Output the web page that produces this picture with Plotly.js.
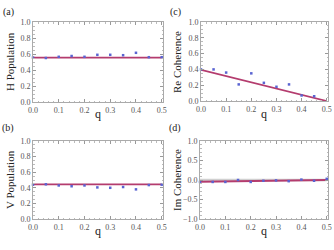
<!DOCTYPE html>
<html><head><meta charset="utf-8">
<script src="https://cdn.plot.ly/plotly-3.0.1.min.js"></script>
<style>html,body{margin:0;padding:0;background:#fff}#c{width:334px;height:250px}</style>
</head><body><div id="c"></div>
<script>
const q = [0, 0.05, 0.1, 0.15, 0.2, 0.25, 0.3, 0.35, 0.4, 0.45, 0.5];
const hPop = [0.555, 0.55, 0.565, 0.575, 0.565, 0.59, 0.59, 0.585, 0.615, 0.56, 0.56];
const vPop = [0.44, 0.445, 0.43, 0.42, 0.43, 0.405, 0.40, 0.41, 0.38, 0.435, 0.44];
const qRe = [0, 0.05, 0.1, 0.15, 0.2, 0.25, 0.3, 0.35, 0.4, 0.45];
const reCoh = [0.40, 0.40, 0.36, 0.21, 0.35, 0.23, 0.18, 0.21, 0.07, 0.06];
const imCoh = [-0.05, -0.05, -0.05, 0.0, -0.05, -0.02, -0.01, -0.03, 0.01, -0.02, 0.03];
const lineQ = [0, 0.5];
const hFit = [0.555, 0.555];
const vFit = [0.445, 0.445];
const reFit = [0.395, 0.0];
const imFit = [-0.045, 0.0];
const zeroLine = [0, 0];
const xTicks = [0, 0.1, 0.2, 0.3, 0.4, 0.5];
const xTickText = ['0.0', '0.1', '0.2', '0.3', '0.4', '0.5'];
const popTicks = [0, 0.2, 0.4, 0.6, 0.8, 1.0];
const popTickText = ['0.0', '0.2', '0.4', '0.6', '0.8', '1.0'];
const imTicks = [-1, -0.5, 0, 0.5, 1];
const imTickText = ['\u22121.0', '\u22120.5', '0.0', '0.5', '1.0'];

const lineColor = '#b43c6e';
const ptColor = '#5a64d2';
const font = 'Liberation Serif';

function pts(x, y, xa, ya) {
  return {x: x, y: y, xaxis: xa, yaxis: ya, type: 'scatter', mode: 'markers',
    marker: {color: ptColor, size: 2.5, symbol: 'square'}, cliponaxis: false, hoverinfo: 'skip'};
}
function fit(x, y, xa, ya, color, w) {
  return {x: x, y: y, xaxis: xa, yaxis: ya, type: 'scatter', mode: 'lines',
    line: {color: color || lineColor, width: w || 1.8}, hoverinfo: 'skip'};
}
const data = [
  fit(lineQ, zeroLine, 'x4', 'y4', '#d0d0d0', 2.5),
  fit(lineQ, hFit, 'x', 'y'), pts(q, hPop, 'x', 'y'),
  fit(lineQ, reFit, 'x2', 'y2'), pts(qRe, reCoh, 'x2', 'y2'),
  fit(lineQ, vFit, 'x3', 'y3'), pts(q, vPop, 'x3', 'y3'),
  fit(lineQ, imFit, 'x4', 'y4'), pts(q, imCoh, 'x4', 'y4')
];

function xax(dom, anchor) {
  return {domain: dom, anchor: anchor, range: [0, 0.505], tickvals: xTicks, ticktext: xTickText,
    showgrid: false, zeroline: false, showline: true, mirror: 'ticks', linecolor: '#aaa', linewidth: 1,
    ticks: 'inside', ticklen: 3, tickcolor: '#999',
    minor: {ticks: 'inside', ticklen: 1.5, tickcolor: '#bbb', dtick: 0.02, tick0: 0},
    tickfont: {family: font, size: 8, color: '#555'}, ticklabelstandoff: 0};
}
function yax(dom, anchor, range, tv, tt, md) {
  return {domain: dom, anchor: anchor, range: range, tickvals: tv, ticktext: tt,
    showgrid: false, zeroline: false, showline: true, mirror: 'ticks', linecolor: '#aaa', linewidth: 1,
    ticks: 'inside', ticklen: 3, tickcolor: '#999',
    minor: {ticks: 'inside', ticklen: 1.5, tickcolor: '#bbb', dtick: md, tick0: 0},
    tickfont: {family: font, size: 8, color: '#555'}};
}
const X = p => p / 334, Y = p => 1 - p / 250;
function ann(text, x, y, size, rot) {
  return {text: text, x: X(x), y: Y(y), xref: 'paper', yref: 'paper', showarrow: false,
    font: {family: font, size: size, color: '#222'}, textangle: rot || 0, xanchor: 'center', yanchor: 'middle'};
}
const layout = {
  width: 334, height: 250, margin: {l: 0, r: 0, t: 0, b: 0}, showlegend: false,
  paper_bgcolor: '#fff', plot_bgcolor: '#fff',
  font: {family: font},
  xaxis: xax([X(33), X(163)], 'y'),
  yaxis: yax([Y(102), Y(22)], 'x', [0, 1], popTicks, popTickText, 0.05),
  xaxis2: xax([X(201), X(328)], 'y2'),
  yaxis2: yax([Y(101), Y(22)], 'x2', [0, 1], popTicks, popTickText, 0.05),
  xaxis3: xax([X(33), X(163)], 'y3'),
  yaxis3: yax([Y(219), Y(141)], 'x3', [0, 1], popTicks, popTickText, 0.05),
  xaxis4: xax([X(200), X(328)], 'y4'),
  yaxis4: yax([Y(219), Y(141)], 'x4', [-1, 1], imTicks, imTickText, 0.1),
  annotations: [
    ann('(a)', 8, 12, 10), ann('(c)', 175, 12, 10), ann('(b)', 8, 128, 10), ann('(d)', 175, 128, 10),
    ann('H Population', 10, 62, 11, -90), ann('Re Coherence', 177, 62, 11, -90),
    ann('V Population', 10, 180, 11, -90), ann('Im Coherence', 177, 180, 11, -90),
    ann('q', 98, 114, 12), ann('q', 264, 114, 12), ann('q', 98, 231, 12), ann('q', 264, 231, 12)
  ]
};
Plotly.newPlot('c', data, layout, {staticPlot: true, displayModeBar: false});
</script></body></html>
